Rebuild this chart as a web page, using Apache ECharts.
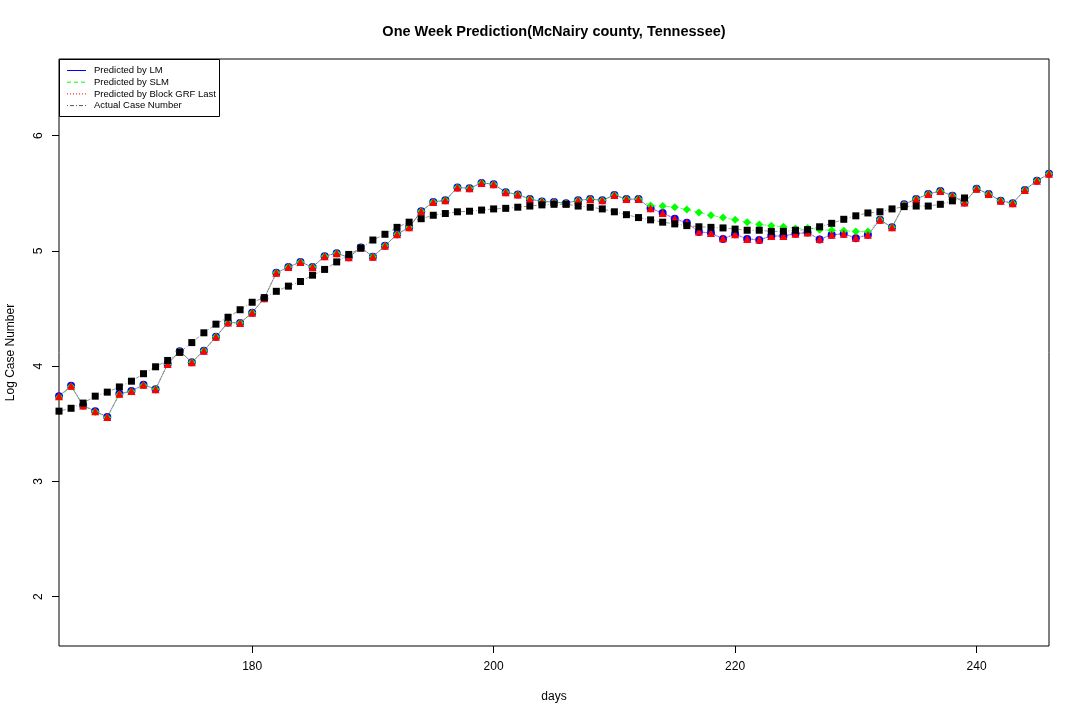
<!DOCTYPE html>
<html lang="en">
<head>
    <meta charset="UTF-8">
    <title>One Week Prediction - McNairy county</title>
    <script src="https://cdn.jsdelivr.net/npm/echarts@6/dist/echarts.min.js"></script>
    <style>
        body { margin: 0; background: #ffffff; }
        #chart { width: 1080px; height: 720px; }
    </style>
</head>
<body>
<div id="chart"></div>
<script>
    // days on the x axis
    const days = [];
    for (let d = 164; d <= 246; d++) days.push(d);

    // log case numbers, one value per day 164..246
    const predLM = [
        3.74, 3.83, 3.66, 3.61, 3.56, 3.76, 3.785, 3.84, 3.80, 4.02,
        4.13, 4.035, 4.135, 4.255, 4.38, 4.375, 4.465, 4.59, 4.81, 4.86,
        4.905, 4.86, 4.955, 4.98, 4.945, 5.03, 4.95, 5.045, 5.145, 5.205,
        5.345, 5.425, 5.44, 5.55, 5.545, 5.59, 5.58, 5.51, 5.49, 5.45,
        5.43, 5.425, 5.415, 5.44, 5.45, 5.44, 5.485, 5.45, 5.45, 5.37,
        5.33, 5.28, 5.245, 5.165, 5.155, 5.105, 5.145, 5.105, 5.095, 5.13,
        5.13, 5.15, 5.16, 5.10, 5.14, 5.15, 5.11, 5.14, 5.27, 5.205,
        5.405, 5.45, 5.495, 5.52, 5.48, 5.42, 5.54, 5.495, 5.435, 5.415,
        5.53, 5.61, 5.67
    ];
    const predSLM = [
        3.73, 3.825, 3.655, 3.605, 3.555, 3.755, 3.78, 3.835, 3.80, 4.02,
        4.13, 4.035, 4.135, 4.255, 4.38, 4.375, 4.465, 4.59, 4.81, 4.86,
        4.905, 4.86, 4.955, 4.98, 4.945, 5.03, 4.95, 5.045, 5.145, 5.205,
        5.345, 5.425, 5.44, 5.55, 5.545, 5.59, 5.58, 5.51, 5.49, 5.45,
        5.43, 5.425, 5.415, 5.44, 5.45, 5.44, 5.485, 5.45, 5.45, 5.395,
        5.39, 5.38, 5.36, 5.335, 5.31, 5.29, 5.27, 5.25, 5.23, 5.22,
        5.21, 5.195, 5.20, 5.185, 5.18, 5.175, 5.17, 5.17, 5.27, 5.205,
        5.405, 5.45, 5.495, 5.52, 5.48, 5.42, 5.54, 5.495, 5.435, 5.415,
        5.53, 5.61, 5.67
    ];
    const predGRF = [
        3.74, 3.83, 3.66, 3.61, 3.56, 3.76, 3.785, 3.84, 3.80, 4.02,
        4.13, 4.035, 4.135, 4.255, 4.38, 4.375, 4.465, 4.59, 4.81, 4.86,
        4.905, 4.86, 4.955, 4.98, 4.945, 5.03, 4.95, 5.045, 5.145, 5.205,
        5.345, 5.425, 5.44, 5.55, 5.545, 5.59, 5.58, 5.51, 5.49, 5.45,
        5.43, 5.425, 5.415, 5.44, 5.45, 5.44, 5.485, 5.45, 5.45, 5.37,
        5.33, 5.28, 5.245, 5.17, 5.155, 5.11, 5.145, 5.105, 5.10, 5.13,
        5.13, 5.15, 5.16, 5.105, 5.14, 5.15, 5.115, 5.14, 5.27, 5.205,
        5.405, 5.45, 5.495, 5.52, 5.48, 5.42, 5.54, 5.495, 5.435, 5.415,
        5.53, 5.61, 5.67
    ];
    const actual = [
        3.61, 3.635, 3.68, 3.74, 3.775, 3.82, 3.87, 3.935, 3.995, 4.05,
        4.12, 4.205, 4.29, 4.365, 4.425, 4.49, 4.555, 4.595, 4.65, 4.695,
        4.735, 4.79, 4.84, 4.905, 4.97, 5.025, 5.095, 5.145, 5.205, 5.25,
        5.28, 5.31, 5.325, 5.34, 5.345, 5.355, 5.365, 5.37, 5.38, 5.39,
        5.40, 5.405, 5.405, 5.39, 5.38, 5.365, 5.34, 5.315, 5.29, 5.27,
        5.25, 5.235, 5.22, 5.21, 5.205, 5.20, 5.19, 5.18, 5.18, 5.17,
        5.17, 5.18, 5.185, 5.21, 5.24, 5.275, 5.305, 5.33, 5.34, 5.365,
        5.385, 5.39, 5.39, 5.405, 5.435, 5.46, null, null, null, null,
        null, null, null
    ];

    const xTicks = [180, 200, 220, 240];
    const yTicks = [2, 3, 4, 5, 6];
    const legendNames = ['Predicted by LM', 'Predicted by SLM', 'Predicted by Block GRF Last', 'Actual Case Number'];

    const pairs = arr => days.map((d, i) => [d, arr[i]]);
    const font = 'Liberation Sans, Arial, sans-serif';

    const chart = echarts.init(document.getElementById('chart'));

    // legend drawn by hand to get R style line samples
    const legendStyles = [
        { color: '#0000ff', dash: null },
        { color: '#00ff00', dash: [4, 3] },
        { color: '#ff0000', dash: [1, 2] },
        { color: '#555555', dash: [1, 2, 4, 2] }
    ];
    const legendGraphics = [{
        type: 'rect',
        shape: { x: 59.5, y: 59.5, width: 160, height: 57 },
        style: { fill: '#fff', stroke: '#000', lineWidth: 1 },
        z: 100
    }];
    legendNames.forEach((name, i) => {
        const y = 70.5 + i * 11.7;
        legendGraphics.push({
            type: 'line',
            shape: { x1: 67, y1: y, x2: 86, y2: y },
            style: { stroke: legendStyles[i].color, lineWidth: 1, lineDash: legendStyles[i].dash },
            z: 101
        });
        legendGraphics.push({
            type: 'text',
            x: 94, y: y,
            style: { text: name, fontSize: 9.5, fontFamily: font, fill: '#000', verticalAlign: 'middle' },
            z: 101
        });
    });

    const option = {
        animation: false,
        backgroundColor: '#ffffff',
        title: {
            text: 'One Week Prediction(McNairy county, Tennessee)',
            left: 549,
            top: 19,
            textAlign: 'center',
            textStyle: { fontSize: 14.5, fontWeight: 'bold', fontFamily: font, color: '#000' }
        },
        grid: {
            left: 59, right: 31, top: 59, bottom: 74,
            outerBoundsMode: 'none',
            containLabel: false,
            show: true, borderColor: '#000', borderWidth: 1, backgroundColor: 'transparent'
        },
        xAxis: {
            type: 'value',
            min: 164, max: 246,
            name: 'days',
            nameLocation: 'middle',
            nameGap: 45,
            nameTextStyle: { fontSize: 12, fontFamily: font, color: '#000' },
            axisLine: { show: false },
            axisTick: { show: true, customValues: xTicks, length: 7, inside: false, lineStyle: { color: '#000' } },
            axisLabel: { customValues: xTicks, margin: 15, fontSize: 12, fontFamily: font, color: '#000' },
            splitLine: { show: false }
        },
        yAxis: {
            type: 'value',
            min: 1.572, max: 6.666,
            name: 'Log Case Number',
            nameLocation: 'middle',
            nameGap: 42,
            nameTextStyle: { fontSize: 12, fontFamily: font, color: '#000' },
            axisLine: { show: false },
            axisTick: { show: true, customValues: yTicks, length: 7, inside: false, lineStyle: { color: '#000' } },
            axisLabel: { customValues: yTicks, margin: 14, rotate: 90, fontSize: 12, fontFamily: font, color: '#000' },
            splitLine: { show: false }
        },
        graphic: legendGraphics,
        series: [
            {
                name: legendNames[0], type: 'line', data: pairs(predLM),
                symbol: 'circle', symbolSize: 8,
                itemStyle: { color: '#0000ff' },
                lineStyle: { color: '#0000ff', width: 1, opacity: 0.4 },
                z: 2
            },
            {
                name: legendNames[1], type: 'line', data: pairs(predSLM),
                symbol: 'diamond', symbolSize: 8,
                itemStyle: { color: '#00ff00' },
                lineStyle: { color: '#00ff00', width: 1, type: [4, 3], opacity: 0.6 },
                z: 3
            },
            {
                name: legendNames[2], type: 'line', data: pairs(predGRF),
                symbol: 'triangle', symbolSize: 8,
                itemStyle: { color: '#ff0000' },
                lineStyle: { color: '#ff0000', width: 1, type: [1, 2], opacity: 0.6 },
                z: 4
            },
            {
                name: legendNames[3], type: 'line', data: pairs(actual),
                symbol: 'rect', symbolSize: 7,
                itemStyle: { color: '#000000' },
                lineStyle: { color: '#555555', width: 1, type: [1, 2, 4, 2], opacity: 0.6 },
                z: 5
            }
        ]
    };
    chart.setOption(option);
</script>
</body>
</html>
